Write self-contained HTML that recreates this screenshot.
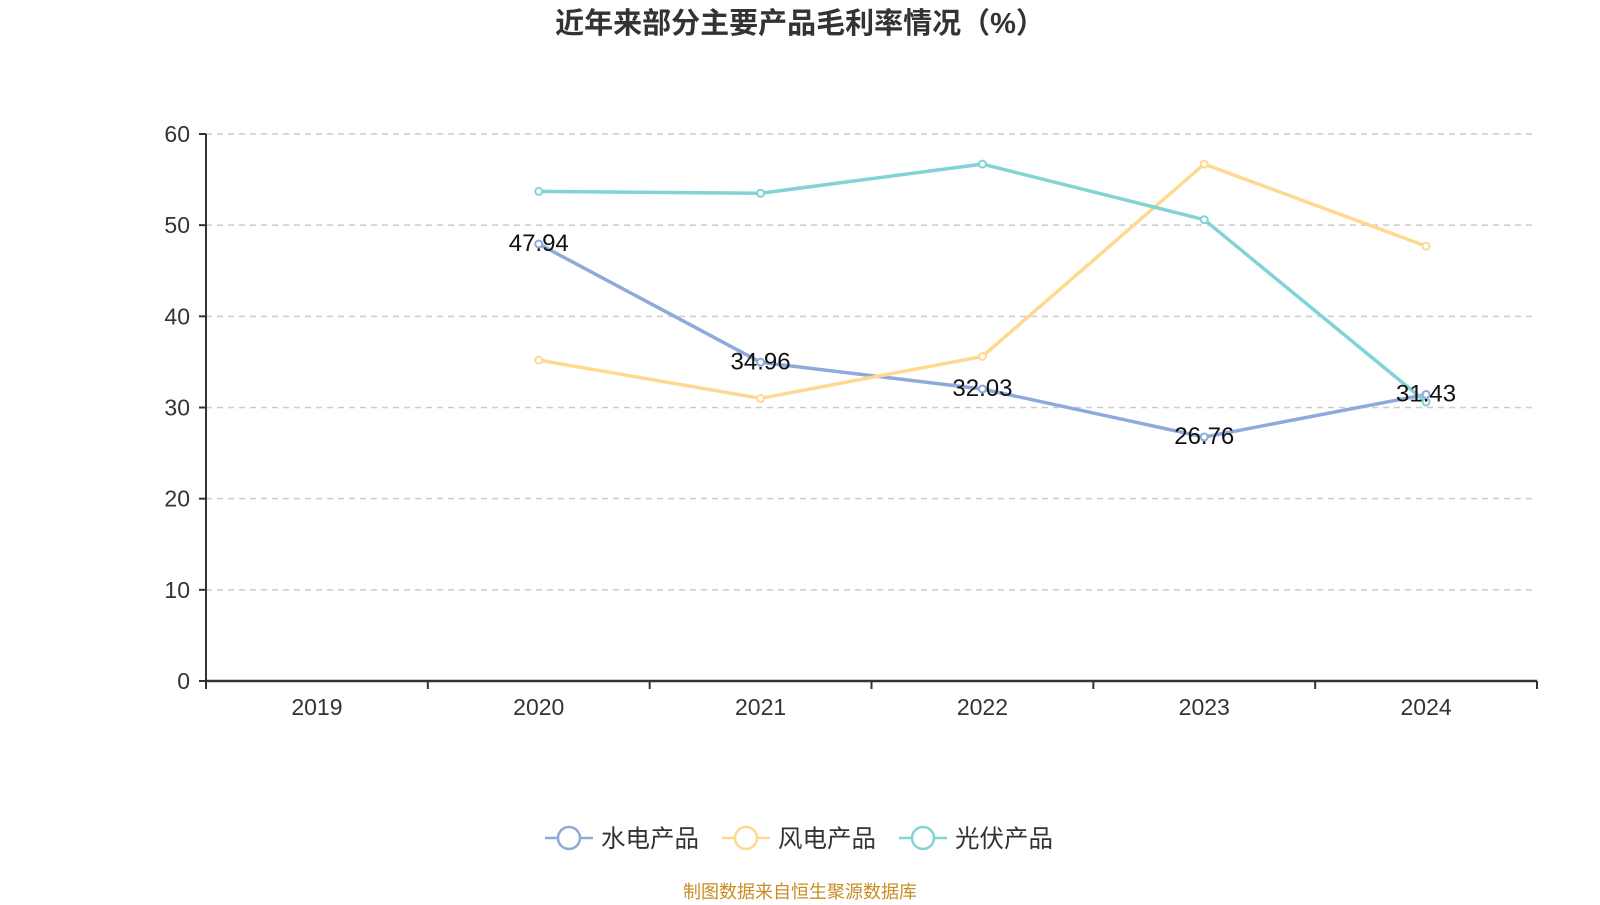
<!DOCTYPE html>
<html><head><meta charset="utf-8"><style>
body{margin:0;background:#fff;font-family:"Liberation Sans","Noto Sans CJK SC",sans-serif}
svg text{font-family:"Liberation Sans","Noto Sans CJK SC",sans-serif}
</style></head><body>
<svg id="c" width="1600" height="900" xmlns="http://www.w3.org/2000/svg">
<text x="800" y="33" text-anchor="middle" font-size="29" font-weight="bold" fill="#333">近年来部分主要产品毛利率情况（%）</text>
<g id="grid"></g><g id="axes"></g><g id="series"></g><g id="labels"></g>
<g id="legend"></g>
<text x="800" y="898" text-anchor="middle" font-size="18" fill="#c98d25">制图数据来自恒生聚源数据库</text>
</svg>
<script>
const categories=["2019","2020","2021","2022","2023","2024"];
const yTicks=[0,10,20,30,40,50,60];
const hydro=[null,47.94,34.96,32.03,26.76,31.43];
const wind=[null,35.2,31.0,35.6,56.7,47.7];
const solar=[null,53.7,53.5,56.7,50.6,30.6];
const names=["水电产品","风电产品","光伏产品"];
const colors=["#8eaadb","#ffd990","#82d3d6"];
const NS="http://www.w3.org/2000/svg";
const L=206,R=1537,T=134,B=681,bw=(R-L)/categories.length;
const x=i=>L+bw*(i+0.5), y=v=>B-(v/60)*(B-T);
function mk(tag,attrs,parent,txt){const e=document.createElementNS(NS,tag);for(const k in attrs)e.setAttribute(k,attrs[k]);if(txt!=null)e.textContent=txt;document.getElementById(parent).appendChild(e);return e;}
yTicks.forEach(t=>{
  if(t>0){const g=mk("line",{x1:L,x2:R,y1:y(t),y2:y(t),stroke:"#ccc","stroke-dasharray":"6,5","stroke-width":1.5},"grid");
  
  }
  const tl=mk("text",{x:190,y:y(t)+8,"text-anchor":"end","font-size":23,fill:"#333"},"axes",t);
  
  
  const tk=mk("line",{x1:L-7,x2:L,y1:y(t),y2:y(t),stroke:"#333","stroke-width":2},"axes");
  
  
});
const ya=mk("line",{x1:L,x2:L,y1:T,y2:B,stroke:"#333","stroke-width":2},"axes");


const xa=mk("line",{x1:L,x2:R,y1:B,y2:B,stroke:"#333","stroke-width":2.5},"axes");


for(let i=0;i<=categories.length;i++){
  const tk=mk("line",{x1:L+bw*i,x2:L+bw*i,y1:B,y2:B+8,stroke:"#333","stroke-width":2},"axes");
  
  
}
categories.forEach((c,i)=>{
  const tl=mk("text",{x:x(i),y:B+34,"text-anchor":"middle","font-size":23,fill:"#333"},"axes",c);
  
  
});
[hydro,wind,solar].forEach((s,k)=>{
  const pts=s.map((v,i)=>v==null?null:[x(i),y(v)]).filter(p=>p);
  const pl=mk("polyline",{points:pts.map(p=>p.join(",")).join(" "),fill:"none",stroke:colors[k],"stroke-width":3.5},"series");
  
  
  pts.forEach(p=>{
    const c=mk("circle",{cx:p[0],cy:p[1],r:3.5,fill:"#fff",stroke:colors[k],"stroke-width":2},"series");
    
    
  });
});
hydro.forEach((v,i)=>{if(v==null)return;
  const t=mk("text",{x:x(i),y:y(v)+7,"text-anchor":"middle","font-size":24,fill:"#111"},"labels",v.toFixed(2));
  
  
});
const lx=[545,722,899];
names.forEach((n,k)=>{
  const ly=838;
  const l=mk("line",{x1:lx[k],x2:lx[k]+48,y1:ly,y2:ly,stroke:colors[k],"stroke-width":2.5},"legend");
  
  
  const c=mk("circle",{cx:lx[k]+24,cy:ly,r:11,fill:"#fff",stroke:colors[k],"stroke-width":2.5},"legend");
  
  
  const t=mk("text",{x:lx[k]+56,y:ly+9,"font-size":24.5,fill:"#333"},"legend",n);
  
  
});
</script>
</body></html>
